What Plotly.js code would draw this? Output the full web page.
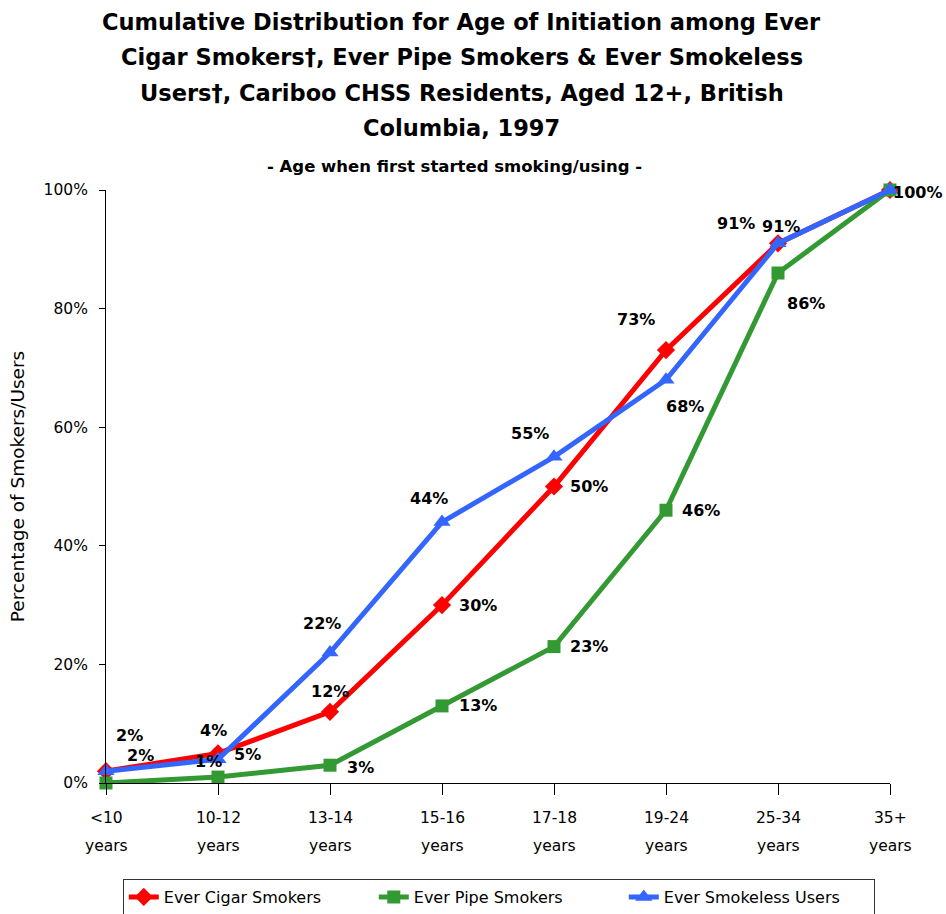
<!DOCTYPE html>
<html><head><meta charset="utf-8">
<script src="https://cdn.plot.ly/plotly-3.0.1.min.js"></script>
<style>body{margin:0;background:#fff}#c{width:946px;height:914px}</style>
</head><body><div id="c"></div>
<script>
const titleLines = ["Cumulative Distribution for Age of Initiation among Ever",
  "Cigar Smokers†, Ever Pipe Smokers & Ever Smokeless",
  "Users†, Cariboo CHSS Residents, Aged 12+, British",
  "Columbia, 1997"];
const subtitle = "- Age when first started smoking/using -";
const categories = ["<10 years","10-12 years","13-14 years","15-16 years","17-18 years","19-24 years","25-34 years","35+ years"];
const cigar = [2, 5, 12, 30, 50, 73, 91, 100];
const pipe = [0, 1, 3, 13, 23, 46, 86, 100];
const smokeless = [2, 4, 22, 44, 55, 68, 91, 100];

// label placement (pixel offsets from each point; null = no label shown)
const cigarOff = [[23,-36],[29,1],[0,-20],[36,0],[35,0],[-30,-31],[-42,-20],null];
const pipeOff = [null,[-10,-16],[30,2],[36,0],[35,0],[35,0],[28,30],[27,2]];
const smokelessOff = [[34,-16],[-5,-29],[-8,-29],[-13,-24],[-24,-23],[19,27],[3,-17],null];

const FONT = "DejaVu Sans";
const plotTop = 190, plotBottom = 783, plotH = plotBottom - plotTop;
const py = p => (plotBottom - p) / plotH;

const traces = [
 {name:"Ever Cigar Smokers", x:categories, y:cigar, mode:"lines+markers", cliponaxis:false,
  line:{color:"#FF0000", width:5}, marker:{symbol:"diamond", size:14, color:"#FF0000"}},
 {name:"Ever Pipe Smokers", x:categories, y:pipe, mode:"lines+markers", cliponaxis:false,
  line:{color:"#339933", width:5}, marker:{symbol:"square", size:13, color:"#339933"}},
 {name:"Ever Smokeless Users", x:categories, y:smokeless, mode:"lines+markers", cliponaxis:false,
  line:{color:"#3366FF", width:5}, marker:{symbol:"triangle-up", size:15, color:"#3366FF"}}
];

const annotations = [];
titleLines.forEach((t,i)=>annotations.push({text:"<b>"+t+"</b>", xref:"paper", yref:"paper",
  x:0.454, y:py(22 + i*35.3), xanchor:"center", yanchor:"middle", showarrow:false,
  font:{family:FONT, size:22.5, color:"#000"}}));
annotations.push({text:"<b>"+subtitle+"</b>", xref:"paper", yref:"paper",
  x:0.445, y:py(166), xanchor:"center", yanchor:"middle", showarrow:false,
  font:{family:FONT, size:16.5, color:"#000"}});
categories.forEach(c=>{
  const parts = c.split(" ");
  annotations.push({text:parts[0], xref:"x", yref:"paper", x:c, y:py(818), xanchor:"center", yanchor:"middle",
    showarrow:false, font:{family:FONT, size:15.5, color:"#000"}});
  annotations.push({text:parts.slice(1).join(" "), xref:"x", yref:"paper", x:c, y:py(846), xanchor:"center", yanchor:"middle",
    showarrow:false, font:{family:FONT, size:15.5, color:"#000"}});
});
function addLabels(vals, offs){
  vals.forEach((v,i)=>{
    if(!offs[i]) return;
    annotations.push({text:"<b>"+v+"%</b>", xref:"x", yref:"y", x:categories[i], y:v,
      xshift:offs[i][0], yshift:-offs[i][1], xanchor:"center", yanchor:"middle", showarrow:false,
      font:{family:FONT, size:16, color:"#000"}});
  });
}
addLabels(cigar, cigarOff);
addLabels(pipe, pipeOff);
addLabels(smokeless, smokelessOff);

const layout = {
 width:946, height:914,
 margin:{l:106, r:56, t:190, b:131, autoexpand:false},
 paper_bgcolor:"#fff", plot_bgcolor:"#fff",
 font:{family:FONT, color:"#000"},
 xaxis:{type:"category", range:[0,7], showline:true, linecolor:"#000", linewidth:1, automargin:false,
   ticks:"outside", ticklen:11, tickcolor:"#000", showgrid:false, zeroline:false, showticklabels:false},
 yaxis:{range:[0,100], dtick:20, ticksuffix:"%", showline:true, linecolor:"#000", linewidth:1, automargin:false,
   ticks:"outside", ticklen:6, tickcolor:"#000", showgrid:false, zeroline:false, ticklabelstandoff:8,
   tickfont:{family:FONT, size:15.5, color:"#000"},
   title:{text:"Percentage of Smokers/Users", font:{family:FONT, size:18.5, color:"#000"}, standoff:14}},
 showlegend:true,
 legend:{orientation:"h", x:0.501, xanchor:"center", y:py(879), yanchor:"top",
   entrywidth:205, entrywidthmode:"pixels",
   bordercolor:"#333", borderwidth:1, font:{family:FONT, size:16, color:"#000"}},
 annotations:annotations
};
Plotly.newPlot("c", traces, layout, {displayModeBar:false});
</script></body></html>
